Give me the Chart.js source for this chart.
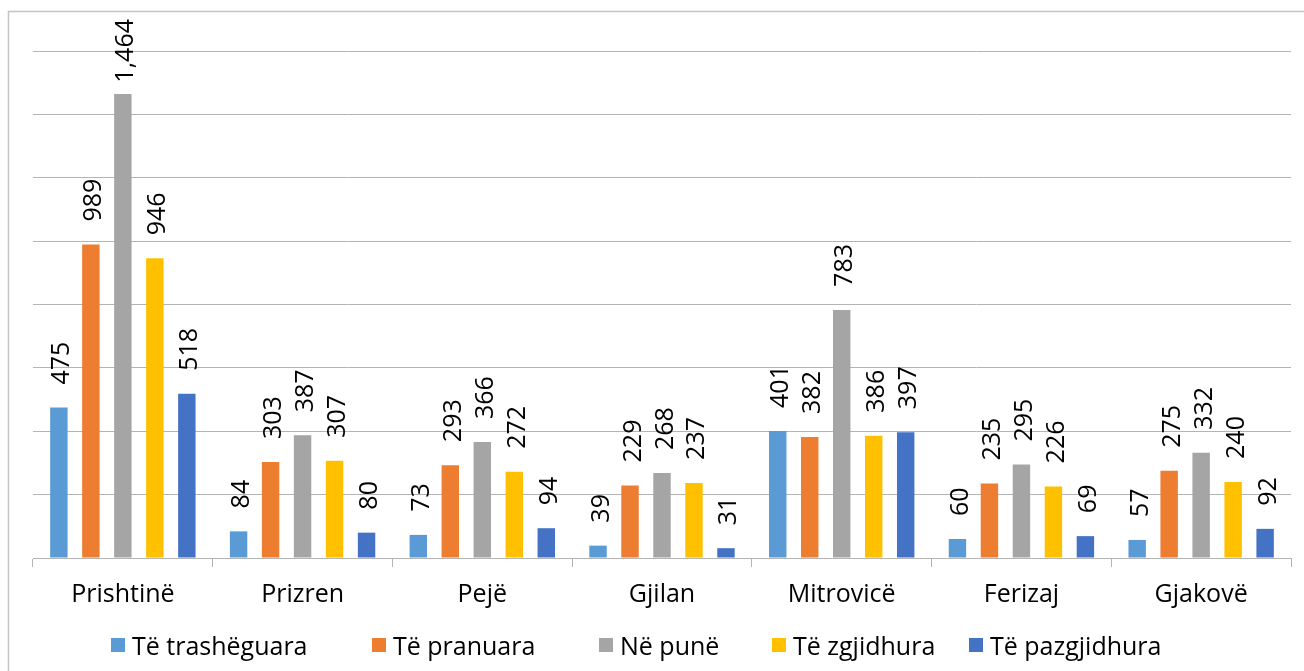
<!DOCTYPE html>
<html>
<head>
<meta charset="utf-8">
<script src="https://cdn.jsdelivr.net/npm/chart.js@4"></script>
<style>
html,body{margin:0;padding:0;background:#fff;}
#wrap{width:1304px;height:671px;position:relative;overflow:hidden;}
#c{position:absolute;left:0;top:0;}
.lg-item{position:absolute;top:630px;height:30px;display:flex;align-items:center;gap:7px;
  font-family:"Open Sans",sans-serif;font-size:25px;line-height:30px;color:#000;white-space:nowrap;}
.lg-sw{width:14px;height:14px;display:inline-block;}
</style>
</head>
<body>
<div id="wrap"><canvas id="c" width="1304" height="671"></canvas><div id="legend"></div></div>
<script>
const categories = ['Prishtinë','Prizren','Pejë','Gjilan','Mitrovicë','Ferizaj','Gjakovë'];
const seriesNames = ['Të trashëguara','Të pranuara','Në punë','Të zgjidhura','Të pazgjidhura'];
const trasheguara = [475, 84, 73, 39, 401, 60, 57];
const pranuara    = [989, 303, 293, 229, 382, 235, 275];
const nePune      = [1464, 387, 366, 268, 783, 295, 332];
const zgjidhura   = [946, 307, 272, 237, 386, 226, 240];
const pazgjidhura = [518, 80, 94, 31, 397, 69, 92];
const colors = ['#5B9BD5','#ED7D31','#A5A5A5','#FFC000','#4472C4'];
const yTicks = [0,200,400,600,800,1000,1200,1400,1600];

const FONT = '"Open Sans"';
const seriesData = [trasheguara, pranuara, nePune, zgjidhura, pazgjidhura];
const legendLefts = [111, 372, 599, 772, 969];

// HTML legend (real text)
const lg = document.getElementById('legend');
seriesNames.forEach((n, i) => {
  const it = document.createElement('div');
  it.className = 'lg-item';
  it.style.left = legendLefts[i] + 'px';
  const sw = document.createElement('span');
  sw.className = 'lg-sw';
  sw.style.background = colors[i];
  const tx = document.createElement('span');
  tx.textContent = n;
  it.appendChild(sw); it.appendChild(tx);
  lg.appendChild(it);
});

const framePlugin = {
  id: 'frame',
  beforeDraw(chart) {
    const ctx = chart.ctx;
    ctx.save();
    ctx.strokeStyle = '#c4c4c4';
    ctx.lineWidth = 1.5;
    ctx.beginPath();
    ctx.moveTo(8.5, 671);
    ctx.lineTo(8.5, 11.5);
    ctx.lineTo(1304, 11.5);
    ctx.stroke();
    ctx.restore();
  }
};

const labelPlugin = {
  id: 'vlabels',
  afterDatasetsDraw(chart) {
    const ctx = chart.ctx;
    ctx.save();
    ctx.font = '25px ' + FONT;
    ctx.fillStyle = '#000';
    ctx.textAlign = 'left';
    ctx.textBaseline = 'alphabetic';
    chart.data.datasets.forEach((ds, i) => {
      const meta = chart.getDatasetMeta(i);
      meta.data.forEach((bar, j) => {
        const txt = ds.data[j].toLocaleString('en-US');
        const w = ctx.measureText(txt).width;
        let start = bar.y - 23;
        if (start - w < 19) start = 19 + w;
        ctx.save();
        ctx.translate(bar.x + 10.5, start);
        ctx.rotate(-Math.PI / 2);
        ctx.fillText(txt, 0, 0);
        ctx.restore();
      });
    });
    ctx.restore();
  }
};

new Chart(document.getElementById('c'), {
  type: 'bar',
  data: {
    labels: categories,
    datasets: seriesNames.map((n, i) => ({
      label: n,
      data: seriesData[i],
      backgroundColor: colors[i],
      borderWidth: 0,
      categoryPercentage: 0.89,
      barPercentage: 0.545
    }))
  },
  options: {
    responsive: false,
    animation: false,
    devicePixelRatio: 1,
    layout: { padding: { left: 33, right: 13, top: 51, bottom: 49 } },
    plugins: {
      legend: { display: false },
      tooltip: { enabled: false }
    },
    scales: {
      x: {
        grid: { display: true, drawOnChartArea: false, drawTicks: true, tickLength: 9, color: '#b4b4b4', offset: true },
        border: { display: true, color: '#b4b4b4', width: 1 },
        ticks: { color: '#000', font: { family: FONT, size: 25, lineHeight: 1.4 }, padding: 10, maxRotation: 0, autoSkip: false }
      },
      y: {
        min: 0,
        max: yTicks[yTicks.length - 1],
        afterBuildTicks(scale) { scale.ticks = yTicks.map(v => ({ value: v })); },
        ticks: { display: false },
        grid: { color: '#b4b4b4', drawTicks: false },
        border: { display: false }
      }
    }
  },
  plugins: [framePlugin, labelPlugin]
});
</script>
</body>
</html>
